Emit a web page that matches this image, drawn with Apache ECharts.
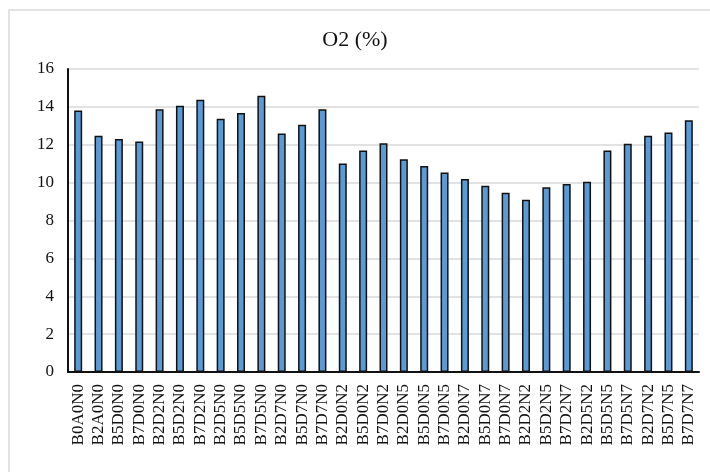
<!DOCTYPE html>
<html>
<head>
<meta charset="utf-8">
<script src="https://cdn.jsdelivr.net/npm/echarts@6/dist/echarts.min.js"></script>
<style>html,body{margin:0;padding:0;background:#fff;}#c{width:710px;height:472px;}</style>
</head>
<body>
<div id="c"></div>
<script>
const titleText = 'O2 (%)';
const categories = ['B0A0N0','B2A0N0','B5D0N0','B7D0N0','B2D2N0','B5D2N0','B7D2N0','B2D5N0','B5D5N0','B7D5N0','B2D7N0','B5D7N0','B7D7N0','B2D0N2','B5D0N2','B7D0N2','B2D0N5','B5D0N5','B7D0N5','B2D0N7','B5D0N7','B7D0N7','B2D2N2','B5D2N5','B7D2N7','B2D5N2','B5D5N5','B7D5N7','B2D7N2','B5D7N5','B7D7N7'];
const o2Values = [13.81,12.47,12.30,12.17,13.88,14.06,14.38,13.37,13.67,14.59,12.59,13.05,13.88,11.01,11.69,12.08,11.24,10.88,10.53,10.19,9.84,9.46,9.10,9.76,9.93,10.05,11.69,12.05,12.47,12.65,13.30];
const yTicks = {min: 0, max: 16, interval: 2};

const chart = echarts.init(document.getElementById('c'), null, {renderer: 'canvas'});
const serif = '"Liberation Serif", "DejaVu Serif", serif';
chart.setOption({
  backgroundColor: '#fff',
  animation: false,
  graphic: [{
    type: 'rect', silent: true, z: -1,
    shape: {x: 9, y: 10, width: 720, height: 480},
    style: {fill: 'none', stroke: '#d9d9d9', lineWidth: 1.5}
  }],
  title: {
    text: titleText, left: 'center', top: 24,
    textStyle: {fontFamily: serif, fontSize: 22, fontWeight: 'normal', color: '#111'}
  },
  grid: {left: 68, right: 11, top: 69, bottom: 100},
  xAxis: {
    type: 'category', data: categories,
    axisLine: {lineStyle: {color: '#111', width: 2}},
    axisTick: {show: false},
    axisLabel: {rotate: 90, interval: 0, margin: 12, fontFamily: serif, fontSize: 17, color: '#111'}
  },
  yAxis: {
    type: 'value', min: yTicks.min, max: yTicks.max, interval: yTicks.interval,
    axisLine: {show: true, lineStyle: {color: '#111', width: 2}},
    axisTick: {show: false},
    axisLabel: {margin: 14, fontFamily: serif, fontSize: 17, color: '#111'},
    splitLine: {lineStyle: {color: '#d9d9d9', width: 1.5}}
  },
  series: [{
    type: 'bar', data: o2Values, barWidth: 8,
    itemStyle: {color: '#5b9bd5', borderColor: '#111', borderWidth: 1.5}
  }]
});
</script>
</body>
</html>
